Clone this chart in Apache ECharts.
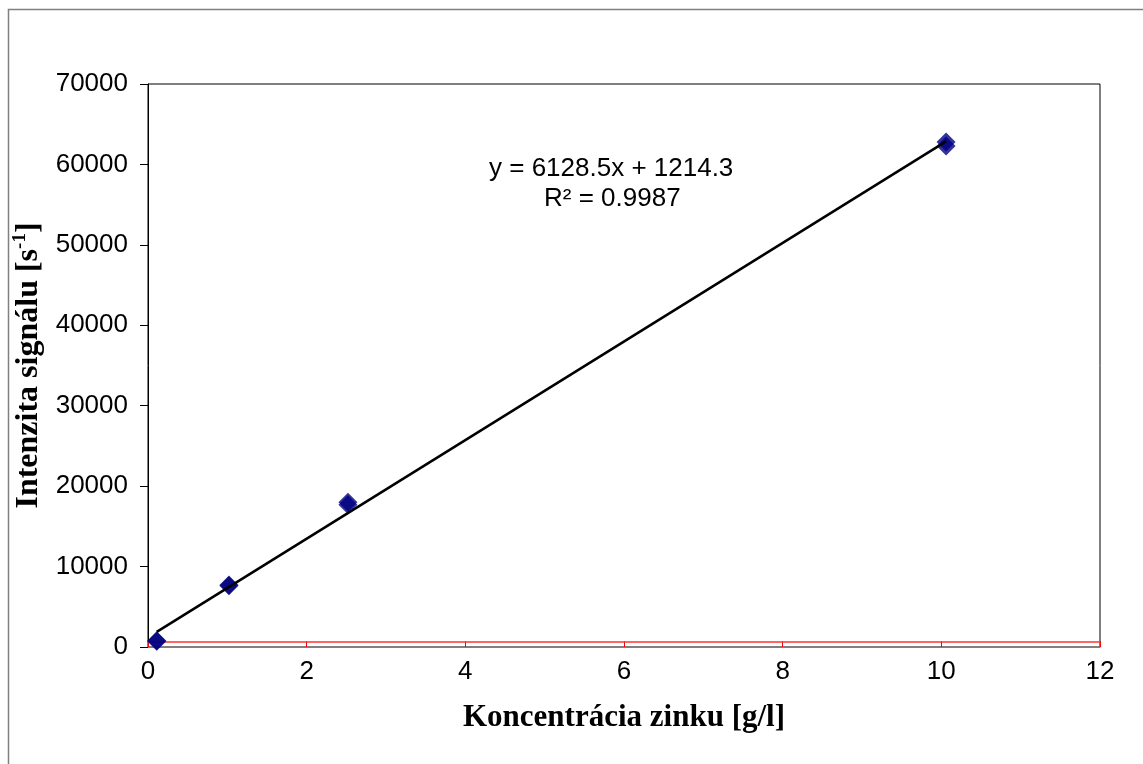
<!DOCTYPE html>
<html>
<head>
<meta charset="utf-8">
<script src="https://cdn.jsdelivr.net/npm/echarts@6/dist/echarts.min.js"></script>
<style>
html,body{margin:0;padding:0;background:#fff;}
#chart{width:1143px;height:764px;}
</style>
</head>
<body>
<div id="chart"></div>
<script>
// Data
const concentrations = [0.11, 0.11, 1.02, 1.02, 2.52, 2.52, 10.06, 10.06];
const intensities = [700, 780, 7600, 7700, 17700, 18000, 62300, 62800];
const trendX = [0.11, 10.06];
const trendY = [1888, 62867];
const limitX = [0, 12];
const limitY = [620, 620];
const equationText = 'y = 6128.5x + 1214.3';
const r2Text = 'R² = 0.9987';
const xTitle = 'Koncentrácia zinku [g/l]';

const chart = echarts.init(document.getElementById('chart'), null, {renderer: 'canvas'});

const option = {
  backgroundColor: '#ffffff',
  animation: false,
  grid: {
    left: 148, top: 84, right: 43, bottom: 117,
    containLabel: false, outerBoundsMode: 'none',
    show: true, borderColor: '#000000', borderWidth: 1, backgroundColor: 'transparent'
  },
  xAxis: {
    type: 'value', min: 0, max: 12, interval: 2,
    name: xTitle, nameLocation: 'middle', nameGap: 55,
    nameTextStyle: {fontFamily: 'Liberation Serif', fontWeight: 'bold', fontSize: 31, color: '#000'},
    axisLine: {show: true, onZero: false, lineStyle: {color: '#808080', width: 1.5}},
    axisTick: {show: true, inside: true, length: 6, lineStyle: {color: '#ff0000', width: 1}},
    axisLabel: {fontFamily: 'Liberation Sans', fontSize: 26, color: '#000', margin: 12},
    splitLine: {show: false}
  },
  yAxis: {
    type: 'value', min: 0, max: 70000, interval: 10000,
    name: '{t|Intenzita signálu [s}{sup|-1}{t|]}', nameLocation: 'middle', nameGap: 92, nameRotate: 90,
    nameTextStyle: {
      rich: {
        t: {fontFamily: 'Liberation Serif', fontWeight: 'bold', fontSize: 32, color: '#000', lineHeight: 36},
        sup: {fontFamily: 'Liberation Serif', fontWeight: 'bold', fontSize: 19, color: '#000', verticalAlign: 'top', lineHeight: 36, padding: [0, 0, 12, 0]}
      }
    },
    axisLine: {show: true, onZero: false, lineStyle: {color: '#000', width: 1}},
    axisTick: {show: true, inside: false, length: 8, lineStyle: {color: '#000', width: 1}},
    axisLabel: {fontFamily: 'Liberation Sans', fontSize: 26, color: '#000', margin: 20, formatter: v => String(v)},
    splitLine: {show: false}
  },
  series: [
    {
      type: 'line',
      data: limitX.map((x, i) => [x, limitY[i]]),
      symbol: 'none',
      lineStyle: {color: '#ff3333', width: 1.5},
      z: 1
    },
    {
      type: 'scatter',
      data: concentrations.map((x, i) => [x, intensities[i]]),
      symbol: 'path://M0,-1L1,0L0,1L-1,0Z',
      symbolSize: 19,
      itemStyle: {color: '#000080'},
      z: 2
    },
    {
      type: 'line',
      data: trendX.map((x, i) => [x, trendY[i]]),
      symbol: 'none',
      lineStyle: {color: '#000000', width: 2.5},
      z: 3
    }
  ],
  graphic: [
    {
      type: 'rect', shape: {x: 8.5, y: 9.5, width: 1300, height: 900},
      style: {fill: 'none', stroke: '#808080', lineWidth: 1.5}, z: -1, silent: true
    },
    {
      type: 'text', left: 489, top: 156,
      style: {text: equationText, fontFamily: 'Liberation Sans', fontSize: 26, fill: '#000'}
    },
    {
      type: 'text', left: 544, top: 186,
      style: {text: r2Text, fontFamily: 'Liberation Sans', fontSize: 26, fill: '#000'}
    }
  ]
};
chart.setOption(option);
</script>
</body>
</html>
